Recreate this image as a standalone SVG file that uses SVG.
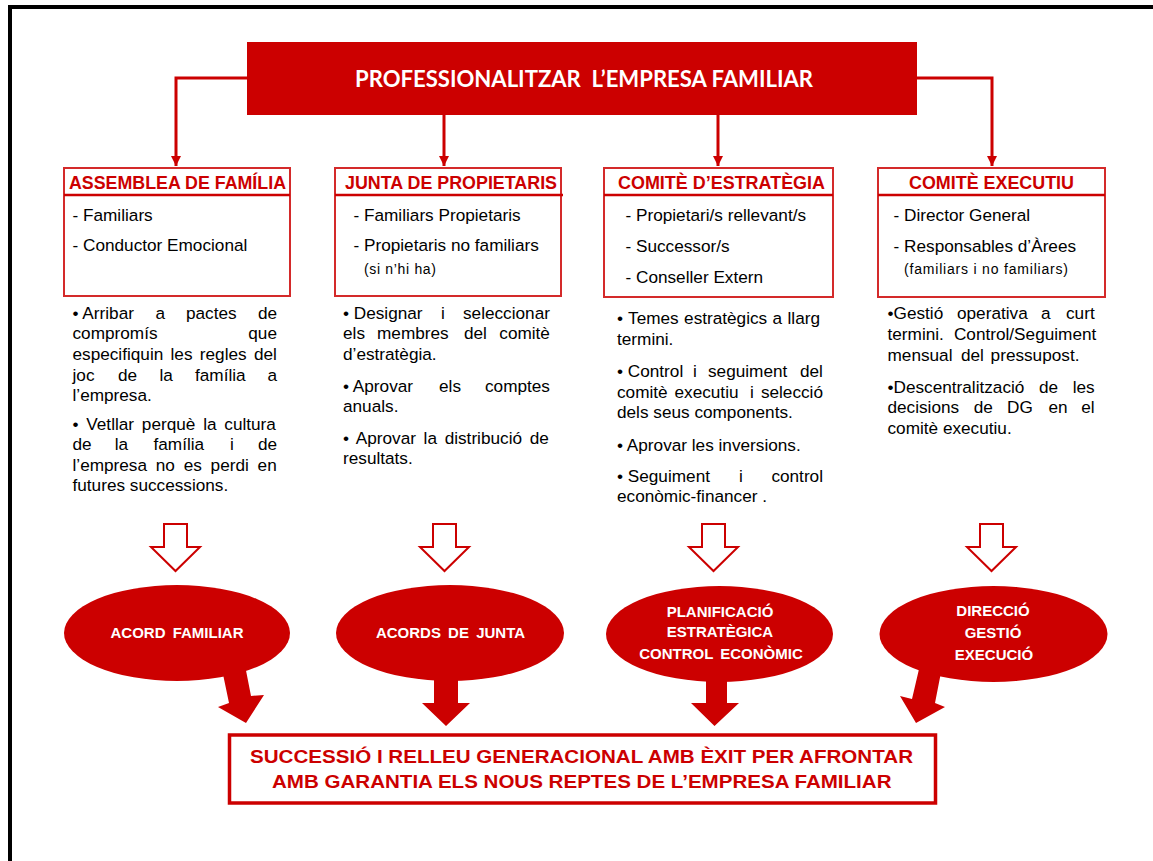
<svg xmlns="http://www.w3.org/2000/svg" width="1153" height="861" viewBox="0 0 1153 861">
<style>
.frame{fill:none;stroke:#000;stroke-width:4}
.banner{fill:#CC0000}
.btxt{font-family:"Lato","Open Sans",sans-serif;font-weight:bold;font-size:22px;fill:#fff;white-space:pre}
.box{fill:#fff;stroke:#D42A2A;stroke-width:2}
.div{stroke:#CC0000;stroke-width:2.5}
.hdr{font-family:"Liberation Sans",Arial,sans-serif;font-weight:bold;font-size:18.5px;fill:#CC0000}
.b{font-family:"Liberation Sans",Arial,sans-serif;font-size:17.2px;fill:#000}
.sm{font-family:"Liberation Sans",Arial,sans-serif;font-size:14px;fill:#000}
.conn{fill:none;stroke:#CC0000;stroke-width:3}
.hollow{fill:#fff;stroke:#CC0000;stroke-width:2;stroke-linejoin:miter}
.solid{fill:#CC0000}
.ell{fill:#CC0000}
.etxt{font-family:"Liberation Sans",Arial,sans-serif;font-weight:bold;font-size:15px;fill:#fff;text-anchor:middle;word-spacing:3px}
.fin{fill:#fff;stroke:#CC0000;stroke-width:3.5}
.ftxt{font-family:"Liberation Sans",Arial,sans-serif;font-weight:bold;font-size:18.5px;fill:#CC0000}
</style>
<defs>
<marker id="ah" markerUnits="userSpaceOnUse" viewBox="0 0 10 10" refX="10" refY="5" markerWidth="10" markerHeight="11" orient="auto">
<path d="M0,0 L10,5 L0,10 Z" fill="#CC0000"/>
</marker>
</defs>
<rect x="0" y="0" width="1153" height="861" fill="#fff"/>
<rect class="frame" x="10" y="7" width="1160" height="870"/>

<g id="connectors">
<path class="conn" d="M248,78 H176 V166" marker-end="url(#ah)"/>
<path class="conn" d="M444,115 V166" marker-end="url(#ah)"/>
<path class="conn" d="M718,115 V166" marker-end="url(#ah)"/>
<path class="conn" d="M916,78 H992 V166" marker-end="url(#ah)"/>
<path class="hollow" d="M164,524 H187 V547 H200 L175.5,571 L151,547 H164 Z"/>
<path class="hollow" d="M433,524 H456 V547 H469 L444.5,571 L420,547 H433 Z"/>
<path class="hollow" d="M702,524 H725 V547 H738 L713.5,571 L689,547 H702 Z"/>
<path class="hollow" d="M980,524 H1003 V547 H1016 L991.5,571 L967,547 H980 Z"/>
<polygon class="solid" points="219,655 242,650 251,696 264,695 246,723 218,707 229,703"/>
<polygon class="solid" points="434,660 458,660 458,703 470,703 446,726 422,703 434,703"/>
<polygon class="solid" points="706,660 727,660 727,703 739,703 714.5,726 691,703 706,703"/>
<polygon class="solid" points="923,652 944,657 935,703 945,707 916,723 900,696 912,699"/>
</g>

<g id="banner">
<rect class="banner" x="247" y="42" width="670" height="73"/>
<text class="btxt" x="355" y="87" textLength="458" lengthAdjust="spacingAndGlyphs" xml:space="preserve">PROFESSIONALITZAR  L’EMPRESA FAMILIAR</text>
</g>

<g id="assemblea">
<rect class="box" x="64" y="168" width="226" height="128"/>
<line class="div" x1="64" y1="195" x2="290" y2="195"/>
<text class="hdr" x="69" y="189" textLength="217" lengthAdjust="spacingAndGlyphs">ASSEMBLEA DE FAMÍLIA</text>
<text class="b" x="72.5" y="221">- Familiars</text>
<text class="b" x="72.5" y="251">- Conductor Emocional</text>
</g>

<g id="junta">
<rect class="box" x="335" y="168" width="226" height="128"/>
<line class="div" x1="335" y1="195" x2="563" y2="195"/>
<text class="hdr" x="345" y="189" textLength="212" lengthAdjust="spacingAndGlyphs">JUNTA DE PROPIETARIS</text>
<text class="b" x="353.5" y="221">- Familiars Propietaris</text>
<text class="b" x="353.5" y="251">- Propietaris no familiars</text>
<text class="sm" x="364" y="274" textLength="72" lengthAdjust="spacing">(si n’hi ha)</text>
</g>

<g id="estrategia">
<rect class="box" x="604" y="168" width="229" height="129"/>
<line class="div" x1="604" y1="195" x2="833" y2="195"/>
<text class="hdr" x="618" y="189" textLength="207" lengthAdjust="spacingAndGlyphs">COMITÈ D’ESTRATÈGIA</text>
<text class="b" x="625.5" y="221">- Propietari/s rellevant/s</text>
<text class="b" x="625.5" y="252">- Successor/s</text>
<text class="b" x="625.5" y="283">- Conseller Extern</text>
</g>

<g id="executiu">
<rect class="box" x="878" y="168" width="227" height="129"/>
<line class="div" x1="878" y1="195" x2="1105" y2="195"/>
<text class="hdr" x="909" y="189" textLength="165" lengthAdjust="spacingAndGlyphs">COMITÈ EXECUTIU</text>
<text class="b" x="893.6" y="221">- Director General</text>
<text class="b" x="893.6" y="252">- Responsables d’Àrees</text>
<text class="sm" x="904" y="274" textLength="164" lengthAdjust="spacing">(familiars i no familiars)</text>
</g>

<g id="text-assemblea">
<text class="b" y="318.5"><tspan x="72.5">• Arribar</tspan><tspan x="155.5">a</tspan><tspan x="186">pactes</tspan><tspan x="258">de</tspan></text>
<text class="b" y="339.1"><tspan x="72.5">compromís</tspan><tspan x="248.3">que</tspan></text>
<text class="b" x="72.5" y="359.7" word-spacing="2.5">especifiquin les regles del</text>
<text class="b" y="380.5"><tspan x="72.5">joc</tspan><tspan x="118">de</tspan><tspan x="159.5">la</tspan><tspan x="195">família</tspan><tspan x="267.5">a</tspan></text>
<text class="b" x="72.5" y="401.3">l’empresa.</text>
<text class="b" x="72.5" y="429.6" word-spacing="3">• Vetllar perquè la cultura</text>
<text class="b" y="450.2"><tspan x="72.5">de</tspan><tspan x="114.7">la</tspan><tspan x="153.5">família</tspan><tspan x="230">i</tspan><tspan x="258">de</tspan></text>
<text class="b" x="72.5" y="470.8" word-spacing="4">l’empresa no es perdi en</text>
<text class="b" x="72.5" y="491">futures successions.</text>
</g>

<g id="text-junta">
<text class="b" y="318.5"><tspan x="343">• Designar</tspan><tspan x="441">i</tspan><tspan x="463">seleccionar</tspan></text>
<text class="b" y="339.1"><tspan x="343">els</tspan><tspan x="377">membres</tspan><tspan x="464">del</tspan><tspan x="499.3">comitè</tspan></text>
<text class="b" x="343" y="359.7">d’estratègia.</text>
<text class="b" y="392"><tspan x="343">• Aprovar</tspan><tspan x="439">els</tspan><tspan x="485">comptes</tspan></text>
<text class="b" x="343" y="412.3">anuals.</text>
<text class="b" x="343" y="443.6" word-spacing="2.9">• Aprovar la distribució de</text>
<text class="b" x="343" y="463.5">resultats.</text>
</g>

<g id="text-estrategia">
<text class="b" x="617" y="324" word-spacing="0.6">• Temes estratègics a llarg</text>
<text class="b" x="617" y="345">termini.</text>
<text class="b" y="377.3"><tspan x="617">• Control</tspan><tspan x="693">i</tspan><tspan x="708">seguiment</tspan><tspan x="800">del</tspan></text>
<text class="b" y="397.7"><tspan x="617">comitè</tspan><tspan x="674.5">executiu</tspan><tspan x="750">i</tspan><tspan x="760.9">selecció</tspan></text>
<text class="b" x="617" y="418">dels seus components.</text>
<text class="b" x="617" y="450.7">• Aprovar les inversions.</text>
<text class="b" y="482.3"><tspan x="617">• Seguiment</tspan><tspan x="739">i</tspan><tspan x="771.4">control</tspan></text>
<text class="b" x="617" y="501.7">econòmic-financer .</text>
</g>

<g id="text-executiu">
<text class="b" y="319"><tspan x="887.5">•Gestió</tspan><tspan x="957">operativa</tspan><tspan x="1041">a</tspan><tspan x="1066">curt</tspan></text>
<text class="b" x="887.5" y="340" word-spacing="5.3">termini. Control/Seguiment</text>
<text class="b" y="360.5"><tspan x="887.5">mensual</tspan><tspan x="961">del</tspan><tspan x="990.6">pressupost.</tspan></text>
<text class="b" y="392.7"><tspan x="887.5">•Descentralització</tspan><tspan x="1039">de</tspan><tspan x="1072.7">les</tspan></text>
<text class="b" y="412.5"><tspan x="887.5">decisions</tspan><tspan x="973.7">de</tspan><tspan x="1007">DG</tspan><tspan x="1048.4">en</tspan><tspan x="1081.3">el</tspan></text>
<text class="b" x="887.5" y="434">comitè executiu.</text>
</g>

<g id="acord-familiar">
<ellipse class="ell" cx="177" cy="633" rx="113" ry="48"/>
<text class="etxt" x="177" y="638">ACORD FAMILIAR</text>
</g>

<g id="acords-junta">
<ellipse class="ell" cx="450" cy="633" rx="114" ry="48"/>
<text class="etxt" x="450.5" y="638">ACORDS DE JUNTA</text>
</g>

<g id="planificacio">
<ellipse class="ell" cx="719.5" cy="634" rx="113.5" ry="48"/>
<text class="etxt" x="720" y="617.3">PLANIFICACIÓ</text>
<text class="etxt" x="720" y="637">ESTRATÈGICA</text>
<text class="etxt" x="721" y="659">CONTROL ECONÒMIC</text>
</g>

<g id="direccio">
<ellipse class="ell" cx="993.5" cy="634" rx="114" ry="48"/>
<text class="etxt" x="993" y="616">DIRECCIÓ</text>
<text class="etxt" x="993" y="638">GESTIÓ</text>
<text class="etxt" x="994" y="660">EXECUCIÓ</text>
</g>

<g id="successio">
<rect class="fin" x="229.5" y="735" width="706" height="68"/>
<text class="ftxt" x="250" y="763.3" textLength="663" lengthAdjust="spacingAndGlyphs">SUCCESSIÓ I RELLEU GENERACIONAL AMB ÈXIT PER AFRONTAR</text>
<text class="ftxt" x="272" y="788.3" textLength="619.5" lengthAdjust="spacingAndGlyphs">AMB GARANTIA ELS NOUS REPTES DE L’EMPRESA FAMILIAR</text>
</g>
</svg>
